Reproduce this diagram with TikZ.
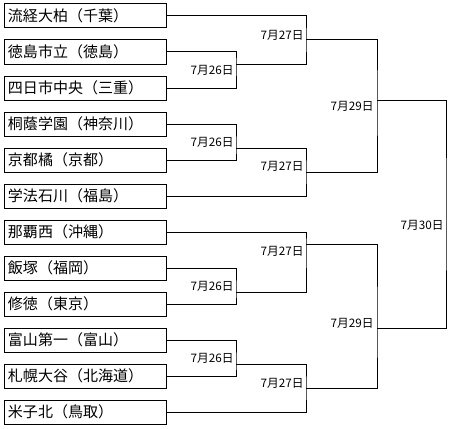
\documentclass[tikz,border=0pt]{standalone}
\usepackage{fontspec}
\setmainfont{Noto Sans CJK JP}
\usepackage{tikz}

\begin{document}
\begin{tikzpicture}[x=1pt,y=-1pt,line width=1pt,
        team/.style={draw,anchor=west,minimum height=24pt,text width=155pt,inner xsep=3.5pt,align=left,font=\fontsize{15}{17}\selectfont},
        day/.style={anchor=east,inner sep=0pt,font=\fontsize{11.7}{13}\selectfont}]
    \useasboundingbox (0,0) rectangle (452,428);
    \node[team] (t1) at (4,16) {流経大柏（千葉）};
    \node[team] (t2) at (4,52) {徳島市立（徳島）};
    \node[team] (t3) at (4,88) {四日市中央（三重）};
    \node[team] (t4) at (4,124) {桐蔭学園（神奈川）};
    \node[team] (t5) at (4,160) {京都橘（京都）};
    \node[team] (t6) at (4,196) {学法石川（福島）};
    \node[team] (t7) at (4,232) {那覇西（沖縄）};
    \node[team] (t8) at (4,268) {飯塚（福岡）};
    \node[team] (t9) at (4,304) {修徳（東京）};
    \node[team] (t10) at (4,340) {富山第一（富山）};
    \node[team] (t11) at (4,376) {札幌大谷（北海道）};
    \node[team] (t12) at (4,412) {米子北（鳥取）};
    % 1回戦
    \coordinate (a) at (236,64);
    \coordinate (b) at (236,148);
    \coordinate (c) at (236,292);
    \coordinate (d) at (236,364);
    \draw (t2.east) -| (a) |- (t3.east);
    \draw (t4.east) -| (b) |- (t5.east);
    \draw (t8.east) -| (c) |- (t9.east);
    \draw (t10.east) -| (d) |- (t11.east);
    \node[day] (da) at (234,70) {7月26日};
    \node[day] (db) at (234,142) {7月26日};
    \node[day] (dc) at (234,286) {7月26日};
    \node[day] (dd) at (234,358) {7月26日};
    % 2回戦
    \coordinate (e) at (306,40);
    \coordinate (f) at (306,172);
    \coordinate (g) at (306,244);
    \coordinate (h) at (306,388);
    \draw (t1.east) -| (e) |- (a);
    \draw (b) -| (f) |- (t6.east);
    \draw (t7.east) -| (g) |- (c);
    \draw (d) -| (h) |- (t12.east);
    \node[day] (de) at (304,35) {7月27日};
    \node[day] (df) at (304,166) {7月27日};
    \node[day] (dg) at (304,251) {7月27日};
    \node[day] (dh) at (304,383) {7月27日};
    % 準決勝
    \coordinate (i) at (377,100);
    \coordinate (j) at (377,328);
    \draw (e) -| (i) |- (f);
    \draw (g) -| (j) |- (h);
    \node[day] (di) at (374,106) {7月29日};
    \node[day] (dj) at (374,323) {7月29日};
    % 決勝
    \coordinate (k) at (446,214);
    \draw (i) -| (k) |- (j);
    \node[day] (dk) at (444,225) {7月30日};
\end{tikzpicture}
\end{document}
